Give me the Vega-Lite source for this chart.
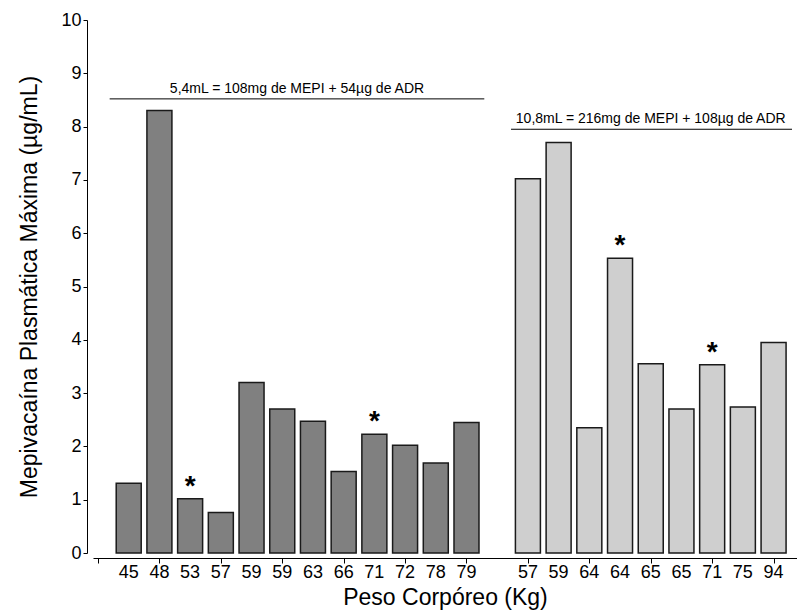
{
  "$schema": "https://vega.github.io/schema/vega-lite/v6.json",
  "width": 704,
  "height": 533,
  "autosize": {"type": "none"},
  "padding": {"left": 93, "top": 20, "right": 0, "bottom": 62},
  "background": "white",
  "config": {
    "view": {"stroke": null},
    "font": "Liberation Sans",
    "axis": {
      "domainColor": "#000000",
      "tickColor": "#000000",
      "labelColor": "#000000",
      "titleColor": "#000000",
      "grid": false,
      "titleFontWeight": "normal",
      "labelFont": "Liberation Sans",
      "titleFont": "Liberation Sans"
    },
    "text": {"font": "Liberation Sans", "color": "#000000"}
  },
  "datasets": {
    "bars": [
      {"pos": 1, "peso": "45", "grupo": "A", "valor": 1.31, "sig": false},
      {"pos": 2, "peso": "48", "grupo": "A", "valor": 8.3, "sig": false},
      {"pos": 3, "peso": "53", "grupo": "A", "valor": 1.02, "sig": true},
      {"pos": 4, "peso": "57", "grupo": "A", "valor": 0.76, "sig": false},
      {"pos": 5, "peso": "59", "grupo": "A", "valor": 3.2, "sig": false},
      {"pos": 6, "peso": "59", "grupo": "A", "valor": 2.7, "sig": false},
      {"pos": 7, "peso": "63", "grupo": "A", "valor": 2.47, "sig": false},
      {"pos": 8, "peso": "66", "grupo": "A", "valor": 1.53, "sig": false},
      {"pos": 9, "peso": "71", "grupo": "A", "valor": 2.23, "sig": true},
      {"pos": 10, "peso": "72", "grupo": "A", "valor": 2.02, "sig": false},
      {"pos": 11, "peso": "78", "grupo": "A", "valor": 1.69, "sig": false},
      {"pos": 12, "peso": "79", "grupo": "A", "valor": 2.45, "sig": false},
      {"pos": 14, "peso": "57", "grupo": "B", "valor": 7.02, "sig": false},
      {"pos": 15, "peso": "59", "grupo": "B", "valor": 7.7, "sig": false},
      {"pos": 16, "peso": "64", "grupo": "B", "valor": 2.35, "sig": false},
      {"pos": 17, "peso": "64", "grupo": "B", "valor": 5.53, "sig": true},
      {"pos": 18, "peso": "65", "grupo": "B", "valor": 3.55, "sig": false},
      {"pos": 19, "peso": "65", "grupo": "B", "valor": 2.7, "sig": false},
      {"pos": 20, "peso": "71", "grupo": "B", "valor": 3.53, "sig": true},
      {"pos": 21, "peso": "75", "grupo": "B", "valor": 2.74, "sig": false},
      {"pos": 22, "peso": "94", "grupo": "B", "valor": 3.95, "sig": false}
    ],
    "grupos": [
      {"x1": 0.38, "x2": 12.58, "xm": 6.48, "y": 8.52, "label": "5,4mL = 108mg de MEPI + 54µg de ADR"},
      {"x1": 13.45, "x2": 22.6, "xm": 18.0, "y": 7.95, "label": "10,8mL = 216mg de MEPI + 108µg de ADR"}
    ]
  },
  "layer": [
    {
      "data": {"name": "bars"},
      "mark": {"type": "bar", "width": 25, "stroke": "#1a1a1a", "strokeWidth": 1.5},
      "encoding": {
        "x": {
          "field": "pos",
          "type": "quantitative",
          "scale": {"domain": [0, 22.6], "nice": false, "zero": false},
          "axis": {
            "values": [0, 1, 2, 3, 4, 5, 6, 7, 8, 9, 10, 11, 12, 13, 14, 15, 16, 17, 18, 19, 20, 21, 22],
            "labels": false,
            "offset": 5,
            "tickSize": 5,
            "title": "Peso Corpóreo (Kg)",
            "titleFontSize": 23,
            "titlePadding": 23
          }
        },
        "y": {
          "field": "valor",
          "type": "quantitative",
          "scale": {"domain": [0, 10], "nice": false},
          "axis": {
            "values": [0, 1, 2, 3, 4, 5, 6, 7, 8, 9, 10],
            "offset": 6,
            "tickSize": 4,
            "labelFontSize": 18,
            "labelPadding": 2,
            "title": "Mepivacaína Plasmática Máxima (µg/mL)",
            "titleFontSize": 23,
            "titlePadding": 19
          }
        },
        "fill": {
          "field": "grupo",
          "type": "nominal",
          "scale": {"domain": ["A", "B"], "range": ["#808080", "#cfcfcf"]},
          "legend": null
        }
      }
    },
    {
      "data": {"name": "bars"},
      "mark": {"type": "text", "fontSize": 18, "baseline": "middle", "dy": 20},
      "encoding": {
        "x": {"field": "pos", "type": "quantitative"},
        "y": {"datum": 0, "type": "quantitative"},
        "text": {"field": "peso"}
      }
    },
    {
      "data": {"name": "bars"},
      "transform": [{"filter": "datum.sig"}],
      "mark": {"type": "text", "text": "*", "fontSize": 28, "fontWeight": "bold", "baseline": "alphabetic", "dy": -4},
      "encoding": {
        "x": {"field": "pos", "type": "quantitative"},
        "y": {"field": "valor", "type": "quantitative"}
      }
    },
    {
      "data": {"name": "grupos"},
      "mark": {"type": "rule", "stroke": "#000000", "strokeWidth": 1},
      "encoding": {
        "x": {"field": "x1", "type": "quantitative"},
        "x2": {"field": "x2"},
        "y": {"field": "y", "type": "quantitative"}
      }
    },
    {
      "data": {"name": "grupos"},
      "mark": {"type": "text", "fontSize": 14, "baseline": "alphabetic", "dy": -6},
      "encoding": {
        "x": {"field": "xm", "type": "quantitative"},
        "y": {"field": "y", "type": "quantitative"},
        "text": {"field": "label"}
      }
    }
  ]
}
